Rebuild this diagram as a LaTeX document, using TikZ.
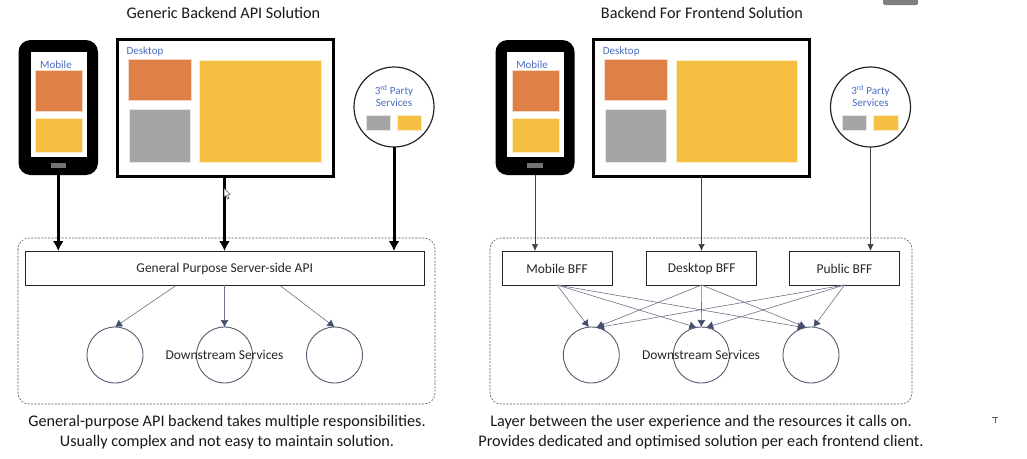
\documentclass[tikz,border=0pt]{standalone}
\usepackage{fontspec}
\setmainfont{Carlito}
\usetikzlibrary{arrows.meta}
\definecolor{cOrange}{HTML}{DF8047}
\definecolor{cYellow}{HTML}{F5BF41}
\definecolor{cGrey}{HTML}{A5A5A5}
\definecolor{cBlue}{HTML}{4A6CBF}
\definecolor{cEdge}{HTML}{6D7288}
\definecolor{cTip}{HTML}{464E6E}
\definecolor{cRing}{HTML}{555B73}
\tikzset{
  sz/.style 2 args={minimum width=#1,minimum height=#2,inner sep=0pt,outer sep=0pt,rectangle},
  orangebox/.style={fill=cOrange,draw=white!70!cOrange,line width=.6pt},
  yellowbox/.style={fill=cYellow,draw=white!70!cYellow,line width=.6pt},
  greybox/.style={fill=cGrey,draw=white!70!cGrey,line width=.6pt},
  phonebody/.style={fill=black,rounded corners=12pt},
  phonescreen/.style={fill=white},
  phonebtn/.style={fill=black!55},
  screenbox/.style={draw=black,line width=3pt,fill=white},
  tpcircle/.style={circle,draw=black!85,line width=1.2pt,fill=white,minimum size=80pt,inner sep=0pt,outer sep=0pt},
  blue/.style={text=cBlue,font=\fontsize{11}{13}\selectfont,inner sep=0pt},
  titletext/.style={font=\fontsize{16.2}{18}\selectfont,text=black!90,inner sep=0pt},
  captext/.style={font=\fontsize{16.2}{20}\selectfont,text=black!90,inner sep=0pt},
  lbl/.style={font=\fontsize{13.5}{15}\selectfont,text=black!85,inner sep=0pt},
  apibox/.style={draw=black!85,line width=.9pt,fill=white},
  group/.style={draw=black!65,line width=.6pt,dash pattern=on 2pt off 1.4pt,rounded corners=11pt},
  ds/.style={circle,draw=cRing,line width=.9pt,minimum size=56pt,inner sep=0pt,outer sep=0pt},
  heavy/.style={-{Latex[length=10pt,width=11pt]},line width=3pt,black},
  light/.style={-{Latex[length=7pt,width=6.5pt]},line width=.7pt,black!75},
  down/.style={-{Latex[length=7pt,width=8pt,color=cTip]},line width=.6pt,cEdge},
}
\begin{document}
\begin{tikzpicture}[x=1pt,y=-1pt]
\useasboundingbox (0,0) rectangle (1027,458);
\fill[white] (0,0) rectangle (1027,458);
% ---------- left panel
\node[titletext] (t1) at (223.5,12.5) {Generic Backend API Solution};
\node[sz={79.5pt}{135pt},phonebody] (p1) at (58.25,107.5) {};
\node[sz={56pt}{105pt},phonescreen] (p1s) at (58.5,104.5) {};
\node[sz={47pt}{41pt},orangebox] (p1o) at (59,90.5) {};
\node[sz={47pt}{34pt},yellowbox] (p1y) at (59,135) {};
\node[sz={15pt}{5pt},phonebtn] (p1b) at (58.7,165.5) {};
\node[blue] (p1t) at (56,64.5) {Mobile};
\node[sz={216pt}{137pt},screenbox] (d1) at (225,107.5) {};
\node[blue,anchor=west] (d1t) at (126.5,51.5) {Desktop};
\node[sz={63pt}{41pt},orangebox] (d1o) at (159.3,80) {};
\node[sz={61pt}{53pt},greybox] (d1g) at (159.3,135.5) {};
\node[sz={121.5pt}{101.5pt},yellowbox] (d1y) at (260.3,111.2) {};
\node[tpcircle] (c1) at (394,107) {};
\node[blue] (c1a) at (394,90.5) {3\textsuperscript{rd} Party};
\node[blue] (c1b) at (394,103) {Services};
\node[sz={24pt}{15.5pt},greybox] (c1g) at (378,122.7) {};
\node[sz={24.5pt}{15.5pt},yellowbox] (c1y) at (409.3,122.7) {};
\draw[group] (18,238) rectangle (435,404);
\node[sz={398.5pt}{34pt},apibox] (api) at (224.7,268) {};
\node[lbl] (apit) at (224.7,268.5) {General Purpose Server-side API};
\node[ds] (s1) at (115,355) {};
\node[ds] (s2) at (224.5,355) {};
\node[ds] (s3) at (334.5,355) {};
\node[lbl] (st1) at (224.5,355) {Downstream Services};
\node[captext] (cap1) at (227,421.7) {General-purpose API backend takes multiple responsibilities.};
\node[captext] (cap2) at (227,441.7) {Usually complex and not easy to maintain solution.};
\coordinate (a1) at (58.25,251);
\coordinate (a2) at (224.5,251);
\coordinate (a3) at (394,251);
\draw[heavy] (p1.south) -- (a1);
\draw[heavy] (d1.south -| a2) -- (a2);
\draw[heavy] (c1.south) -- (a3);
\coordinate (b1) at (176,285.5);
\coordinate (b3) at (280,285.5);
\draw[down] (b1) -- (s1.north);
\draw[down] (api.south -| s2) -- (s2.north);
\draw[down] (b3) -- (s3.north);
% ---------- right panel
\node[titletext] (t2) at (702,12.5) {Backend For Frontend Solution};
\node[sz={79pt}{135pt},phonebody] (p2) at (535,107.5) {};
\node[sz={57pt}{105pt},phonescreen] (p2s) at (535.3,104.5) {};
\node[sz={47pt}{41pt},orangebox] (p2o) at (535.5,90.5) {};
\node[sz={47pt}{34pt},yellowbox] (p2y) at (535.5,135) {};
\node[sz={16pt}{5pt},phonebtn] (p2b) at (535.3,165.5) {};
\node[blue] (p2t) at (532,64.5) {Mobile};
\node[sz={216pt}{137pt},screenbox] (d2) at (701.5,107.5) {};
\node[blue,anchor=west] (d2t) at (602.7,51.5) {Desktop};
\node[sz={63pt}{41pt},orangebox] (d2o) at (635.7,80) {};
\node[sz={61pt}{53pt},greybox] (d2g) at (635.7,135.5) {};
\node[sz={121.5pt}{101.5pt},yellowbox] (d2y) at (736.8,111.2) {};
\node[tpcircle] (c2) at (870.5,107) {};
\node[blue] (c2a) at (870.5,90.5) {3\textsuperscript{rd} Party};
\node[blue] (c2b) at (870.5,103) {Services};
\node[sz={24pt}{15.5pt},greybox] (c2g) at (854.5,122.7) {};
\node[sz={24.5pt}{15.5pt},yellowbox] (c2y) at (886,122.7) {};
\draw[group] (490,238) rectangle (912,404);
\node[sz={110pt}{34pt},apibox] (m) at (557,268) {};
\node[sz={110pt}{34pt},apibox] (k) at (701.7,268) {};
\node[sz={110pt}{34pt},apibox] (q) at (844.5,268) {};
\node[lbl] (mt) at (557,268.5) {Mobile BFF};
\node[lbl] (kt) at (701.7,268.5) {Desktop BFF};
\node[lbl] (qt) at (844.5,268.5) {Public BFF};
\node[ds] (r1) at (591.3,355) {};
\node[ds] (r2) at (701.3,355) {};
\node[ds] (r3) at (811,355) {};
\node[lbl] (st2) at (701,355) {Downstream Services};
\node[captext] (cap3) at (701,421.7) {Layer between the user experience and the resources it calls on.};
\node[captext] (cap4) at (701,441.7) {Provides dedicated and optimised solution per each frontend client.};
\draw[light] (p2.south) -- (p2.south |- m.north);
\draw[light] (d2.south) -- (d2.south |- k.north);
\draw[light] (c2.south) -- (c2.south |- q.north);
\draw[down] (m.south) -- (r1.95);
\draw[down] (m.south) -- (r2.100);
\draw[down] (m.south) -- (r3.103);
\draw[down] (k.south) -- (r1.80);
\draw[down] (k.south) -- (r2.north);
\draw[down] (k.south) -- (r3.100);
\draw[down] (q.south) -- (r1.78);
\draw[down] (q.south) -- (r2.80);
\draw[down] (q.south) -- (r3.85);
% ---------- screen-capture leftovers
\fill[black!50,rounded corners=1.5pt] (883,-3) rectangle (918,5);
\fill[white,draw=black!70,line width=.5pt] (224,188) -- (224,197) -- (226,195.5) -- (227.5,199) -- (229,198.3) -- (227.5,195) -- (230,194.5) -- cycle;
\draw[black!65,line width=.8pt] (992,417) -- (998,417) (995,417) -- (995,423);
\end{tikzpicture}
\end{document}
